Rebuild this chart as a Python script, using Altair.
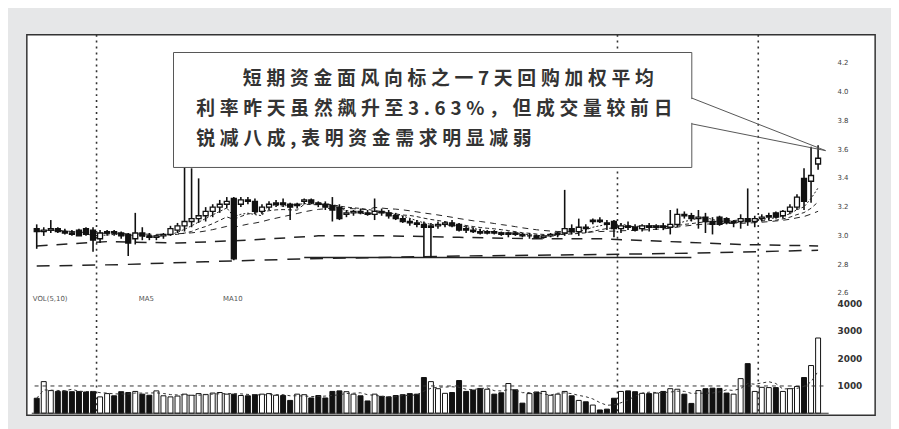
import altair as alt
import pandas as pd

# ---------------- data ----------------
opens = [3.05, 3.03, 3.04, 3.05, 3.03, 3.02, 3.04, 3.05, 3.04,
         2.98, 3.02, 3.03, 3.02, 3.01, 2.98, 3.02, 3.00,
         2.99, 3.00, 3.01, 3.04,
         3.07, 3.10, 3.12, 3.14, 3.17, 3.20, 3.22, 3.26,
         3.22, 3.25, 3.24, 3.17, 3.20, 3.22, 3.23, 3.22, 3.21, 3.24, 3.25, 3.23, 3.22, 3.21,
         3.20, 3.15, 3.16, 3.17, 3.16, 3.15, 3.17, 3.16, 3.14, 3.12, 3.10, 3.09, 3.08, 3.06,
         3.07, 3.08, 3.09, 3.08, 3.05, 3.04, 3.03, 3.02, 3.03, 3.02, 3.01, 3.02, 3.01, 3.00,
         3.00, 2.99, 3.00,
         3.01, 3.02, 3.05, 3.03, 3.06, 3.10, 3.11, 3.09, 3.10,
         3.05, 3.07, 3.06, 3.05, 3.07, 3.06, 3.07, 3.06, 3.08, 3.15, 3.14, 3.12, 3.13, 3.10,
         3.13, 3.12, 3.09, 3.10, 3.12,
         3.10, 3.12, 3.13, 3.16, 3.14, 3.17, 3.20, 3.40, 3.38, 3.50]
highs = [3.08, 3.06, 3.11, 3.06, 3.05, 3.04, 3.05, 3.06, 3.06,
         3.04, 3.04, 3.04, 3.03, 3.02, 3.16, 3.06, 3.02,
         3.01, 3.02, 3.07, 3.09,
         3.55, 3.47, 3.40, 3.20, 3.22, 3.25, 3.27, 3.27,
         3.27, 3.27, 3.26, 3.22, 3.24, 3.25, 3.26, 3.23, 3.23, 3.26, 3.26, 3.24, 3.24, 3.27,
         3.22, 3.18, 3.18, 3.19, 3.18, 3.26, 3.19, 3.18, 3.16, 3.14, 3.12, 3.11, 3.10, 3.09,
         3.10, 3.10, 3.11, 3.09, 3.07, 3.06, 3.05, 3.04, 3.04, 3.03, 3.03, 3.03, 3.02, 3.02,
         3.01, 3.01, 3.02,
         3.03, 3.32, 3.08, 3.12, 3.08, 3.12, 3.13, 3.11, 3.11,
         3.09, 3.10, 3.08, 3.08, 3.09, 3.08, 3.09, 3.18, 3.19, 3.17, 3.16, 3.18, 3.16, 3.13,
         3.14, 3.13, 3.11, 3.15, 3.33,
         3.14, 3.15, 3.16, 3.17, 3.18, 3.22, 3.29, 3.47, 3.62, 3.63]
lows = [2.91, 3.00, 3.02, 3.02, 3.01, 3.00, 3.00, 3.00, 2.89,
        2.95, 3.00, 3.00, 2.98, 2.86, 2.94, 2.97, 2.97,
        2.97, 2.98, 3.00, 3.02,
        3.03, 3.06, 3.09, 3.10, 3.13, 3.16, 3.19, 2.83,
        3.20, 3.22, 3.15, 3.15, 3.18, 3.20, 3.20, 3.11, 3.19, 3.22, 3.22, 3.20, 3.18, 3.10,
        3.11, 3.13, 3.14, 3.15, 3.14, 3.11, 3.14, 3.12, 3.11, 3.09, 3.07, 3.06, 2.85, 2.85,
        3.05, 3.06, 3.06, 3.03, 3.02, 3.02, 3.01, 3.01, 3.01, 3.00, 2.99, 3.00, 2.99, 2.98,
        2.98, 2.98, 2.99,
        2.99, 3.00, 3.01, 3.00, 3.02, 3.08, 3.09, 3.04, 2.99,
        3.02, 3.04, 3.03, 3.03, 3.03, 3.04, 3.04, 3.01, 3.06, 3.12, 3.10, 3.05, 3.02, 3.01,
        3.07, 3.08, 3.06, 3.05, 3.07,
        3.06, 3.10, 3.11, 3.12, 3.12, 3.15, 3.18, 3.18, 3.23, 3.46]
closes = [3.03, 3.04, 3.05, 3.03, 3.02, 3.01, 3.00, 3.01, 2.97,
          3.02, 3.03, 3.02, 3.00, 2.95, 3.02, 3.00, 2.99,
          3.00, 3.01, 3.05, 3.07,
          3.10, 3.12, 3.14, 3.17, 3.20, 3.22, 3.24, 2.84,
          3.25, 3.24, 3.17, 3.20, 3.22, 3.23, 3.22, 3.20, 3.22, 3.25, 3.23, 3.22, 3.20, 3.18,
          3.12, 3.16, 3.17, 3.16, 3.15, 3.17, 3.16, 3.14, 3.12, 3.10, 3.09, 3.08, 3.06, 3.07,
          3.08, 3.09, 3.07, 3.04, 3.04, 3.03, 3.02, 3.03, 3.02, 3.01, 3.02, 3.01, 3.00, 3.00,
          2.99, 3.00, 3.01,
          3.02, 3.05, 3.03, 3.06, 3.05, 3.11, 3.10, 3.08, 3.05,
          3.07, 3.06, 3.04, 3.07, 3.06, 3.07, 3.06, 3.08, 3.15, 3.14, 3.12, 3.13, 3.10, 3.08,
          3.08, 3.09, 3.10, 3.12, 3.10,
          3.12, 3.13, 3.14, 3.13, 3.17, 3.20, 3.27, 3.24, 3.42, 3.54]
volumes = [550, 1160, 830, 800, 810, 790, 800, 780, 800,
           600, 720, 640, 790, 760, 800, 700, 660,
           820, 640, 600, 630,
           700, 660, 720, 690, 740, 760, 700, 700,
           650, 640, 680, 700, 720, 660, 650, 470, 700, 680, 560, 650, 560, 800,
           820, 790, 700, 640, 450, 700, 620, 600, 650, 680, 720, 700, 1310, 1160,
           900, 730, 760, 1200, 800, 850, 910, 880, 700, 750, 1090, 860, 370, 720,
           780, 800, 660,
           700, 800, 640, 470, 420, 300, 120, 150, 550,
           800, 820, 790, 730, 720, 740, 800, 900, 880, 700, 360, 830, 900, 920,
           910, 740, 700, 1270, 1820,
           800, 950, 940, 940, 800, 900, 980, 1310, 1750, 2760]

month_breaks = [8.5, 82.5, 102.5]
price_ticks = [4.2, 4.0, 3.8, 3.6, 3.4, 3.2, 3.0, 2.8, 2.6]
vol_ticks = [1000, 2000, 3000, 4000]

long_ma_a_idx = [0, 10, 20, 30, 40, 50, 60, 70, 80, 90, 100, 111]
long_ma_a_val = [2.93, 2.96, 2.95, 2.97, 3.00, 3.00, 2.99, 2.98, 2.98, 2.96, 2.94, 2.93]
long_ma_b_idx = [0, 12, 24, 38, 60, 80, 93, 111]
long_ma_b_val = [2.79, 2.80, 2.82, 2.84, 2.86, 2.87, 2.88, 2.90]
flat_idx = [38, 93]
flat_val = [2.85, 2.85]

callout_lines = ["短期资金面风向标之一7天回购加权平均",
                 "利率昨天虽然飙升至3.63%，但成交量较前日",
                 "锐减八成,表明资金需求明显减弱"]
vol_legend = ["VOL(5,10)", "MA5", "MA10"]

# ---------------- build ----------------
df = pd.DataFrame({"i": list(range(len(closes))), "open": opens, "high": highs,
                   "low": lows, "close": closes, "vol": volumes})
df["dir"] = ["down" if c < o else "up" for o, c in zip(opens, closes)]

xs = alt.Scale(domain=[-0.7, 118.4], nice=False, zero=False)
X = alt.X("i:Q", scale=xs, axis=None)
ps = alt.Scale(domain=[1.752, 4.4], nice=False, zero=False)
vs = alt.Scale(domain=[-73, 13890], nice=False, zero=False)
fill = alt.Fill("dir:N", scale=alt.Scale(domain=["up", "down"], range=["white", "#111"]), legend=None)

base = alt.Chart(df)
srt = [alt.SortField("i", order="ascending")]

ma5 = base.transform_window(m="mean(close)", frame=[-4, 0], sort=srt).mark_line(
    color="#222", strokeWidth=1, strokeDash=[2, 2]).encode(x=X, y=alt.Y("m:Q", scale=ps, axis=None))
ma10 = base.transform_window(m="mean(close)", frame=[-9, 0], sort=srt).mark_line(
    color="#222", strokeWidth=1, strokeDash=[4, 3]).encode(x=X, y=alt.Y("m:Q", scale=ps, axis=None))
ma20 = base.transform_window(m="mean(close)", frame=[-19, 0], sort=srt).mark_line(
    color="#222", strokeWidth=1, strokeDash=[6, 5]).encode(x=X, y=alt.Y("m:Q", scale=ps, axis=None))
la = alt.Chart(pd.DataFrame({"i": long_ma_a_idx, "v": long_ma_a_val})).mark_line(
    color="#222", strokeWidth=1.5, strokeDash=[11, 9]).encode(x=X, y=alt.Y("v:Q", scale=ps, axis=None))
lb = alt.Chart(pd.DataFrame({"i": long_ma_b_idx, "v": long_ma_b_val})).mark_line(
    color="#222", strokeWidth=1.5, strokeDash=[13, 10]).encode(x=X, y=alt.Y("v:Q", scale=ps, axis=None))
flat = alt.Chart(pd.DataFrame({"i": flat_idx, "v": flat_val})).mark_line(
    color="#222", strokeWidth=1.5).encode(x=X, y=alt.Y("v:Q", scale=ps, axis=None))
wicks = base.mark_rule(color="#111", strokeWidth=1.6).encode(
    x=X, y=alt.Y("low:Q", scale=ps, axis=None), y2="high:Q")
bodies = base.mark_bar(size=5, stroke="#111", strokeWidth=1.3).encode(
    x=X, y=alt.Y("open:Q", scale=ps, axis=None), y2="close:Q", fill=fill)
plabels = alt.Chart(pd.DataFrame({"v": price_ticks, "t": [f"{v:.1f}" for v in price_ticks]})).mark_text(
    align="left", baseline="middle", fontSize=7, font="DejaVu Sans", color="#444").encode(
    x=alt.value(818), y=alt.Y("v:Q", scale=ps, axis=None), text="t:N")
price_layer = alt.layer(ma20, ma10, ma5, la, lb, flat, wicks, bodies, plabels)

vbars = base.mark_bar(size=5, stroke="#111", strokeWidth=1).encode(
    x=X, y=alt.Y("vol:Q", scale=vs, axis=None), y2=alt.datum(0), fill=fill)
vma = base.transform_window(m="mean(vol)", frame=[-4, 0], sort=srt).mark_line(
    color="#333", strokeWidth=1, strokeDash=[3, 3]).encode(x=X, y=alt.Y("m:Q", scale=vs, axis=None))
grid = alt.Chart(pd.DataFrame({"i": [-0.3], "i2": [112.0], "v": [vol_ticks[0]]})).mark_rule(
    color="#333", strokeWidth=1, strokeDash=[4, 4]).encode(
    x=X, x2="i2:Q", y=alt.Y("v:Q", scale=vs, axis=None))
baseline = alt.Chart(pd.DataFrame({"i": [-0.7], "i2": [112.5], "v": [0]})).mark_rule(
    color="#333", strokeWidth=1.2).encode(x=X, x2="i2:Q", y=alt.Y("v:Q", scale=vs, axis=None))
vlabels = alt.Chart(pd.DataFrame({"v": vol_ticks, "t": [str(v) for v in vol_ticks]})).mark_text(
    align="left", baseline="middle", fontSize=9, fontWeight="bold", font="DejaVu Sans",
    color="#333").encode(x=alt.value(818), y=alt.Y("v:Q", scale=vs, axis=None), text="t:N")
vol_layer = alt.layer(vbars, vma, grid, baseline, vlabels)

months = alt.Chart(pd.DataFrame({"i": month_breaks})).mark_rule(
    color="#333", strokeWidth=1.6, strokeDash=[2, 4]).encode(x=X)

one = pd.DataFrame({"a": [0]})
box = alt.Chart(one).mark_rect(fill="white", stroke="#555", strokeWidth=1).encode(
    x=alt.value(148), x2=alt.value(671), y=alt.value(18), y2=alt.value(134))
erase = alt.Chart(one).mark_rule(color="white", strokeWidth=3).encode(
    x=alt.value(671), x2=alt.value(671), y=alt.value(65), y2=alt.value(89))
lead1 = alt.Chart(one).mark_rule(color="#555", strokeWidth=1).encode(
    x=alt.value(671), y=alt.value(64), x2=alt.value(806), y2=alt.value(117))
lead2 = alt.Chart(one).mark_rule(color="#555", strokeWidth=1).encode(
    x=alt.value(671), y=alt.value(90), x2=alt.value(806), y2=alt.value(117))

SP = "\u2005"
texts = []
for line, px, py in zip(callout_lines, [218, 171, 171], [45, 75, 105]):
    texts.append(alt.Chart(one).mark_text(
        align="left", baseline="middle", fontSize=19, font="Noto Sans CJK SC",
        fontWeight="bold", color="#333").encode(
        x=alt.value(px), y=alt.value(py), text=alt.value(SP.join(line))))
for t, px in zip(vol_legend, [6, 113, 198]):
    texts.append(alt.Chart(one).mark_text(
        align="left", baseline="middle", fontSize=7, font="DejaVu Sans", color="#555").encode(
        x=alt.value(px), y=alt.value(267), text=alt.value(t)))

chart = alt.layer(months, price_layer, vol_layer, box, erase, lead1, lead2, *texts).resolve_scale(
    y="independent").properties(
    width=856, height=384,
    padding={"left": 19, "top": 25, "right": 16, "bottom": 12},
    autosize=alt.AutoSizeParams(type="none")
).configure(background="#e6e7e8").configure_view(fill="white", stroke="#333", strokeWidth=1.5)

chart.save("out.html", embed_options={"renderer": "svg", "actions": False})
